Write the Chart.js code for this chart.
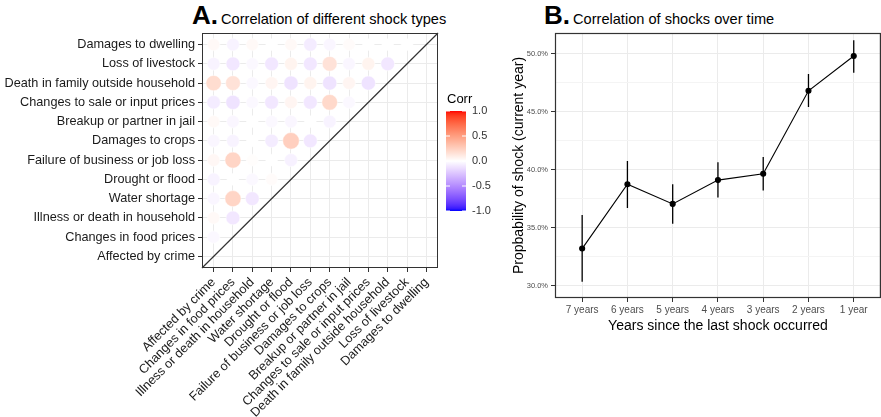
<!DOCTYPE html>
<html>
<head>
<meta charset="utf-8">
<script src="https://cdn.jsdelivr.net/npm/chart.js@4.4.0/dist/chart.umd.min.js"></script>
<style>
html, body { margin: 0; padding: 0; background: #fff; overflow: hidden; }
body { width: 881px; height: 417px; position: relative; font-family: "Liberation Sans", Arial, sans-serif; }
.title { position: absolute; top: 0; height: 30px; line-height: 30px; white-space: nowrap; color: #000; }
.title b { font-size: 26px; font-weight: bold; margin-right: 3px; }
.title span { font-size: 14.6px; }
#corrChart { position: absolute; left: 0; top: 0; }
#timeChart { position: absolute; left: 500px; top: 0; }
</style>
</head>
<body>
<div class="title" style="left:192px"><b>A.</b><span>Correlation of different shock types</span></div>
<div class="title" style="left:544px"><b>B.</b><span>Correlation of shocks over time</span></div>
<canvas id="corrChart" width="500" height="417"></canvas>
<canvas id="timeChart" width="386" height="417"></canvas>
<script>
var FONT = '"Liberation Sans", Arial, sans-serif';

// panel A: shock types, bottom-to-top on y, left-to-right on x
var shockTypes = ['Affected by crime', 'Changes in food prices', 'Illness or death in household',
  'Water shortage', 'Drought or flood', 'Failure of business or job loss', 'Damages to crops',
  'Breakup or partner in jail', 'Changes to sale or input prices',
  'Death in family outside household', 'Loss of livestock', 'Damages to dwelling'];

// corrRows[i][j] = correlation of shockTypes[i] with shockTypes[j], j < i
var corrRows = [
  [],
  [-0.03],
  [0.03, -0.10],
  [-0.04, 0.22, -0.10],
  [-0.05, 0.00, -0.03, 0.02],
  [0.04, 0.22, 0.01, 0.00, -0.06],
  [-0.04, -0.05, 0.00, -0.08, 0.25, -0.10],
  [0.03, -0.04, 0.00, -0.03, -0.04, 0.00, -0.05],
  [-0.08, -0.12, -0.03, -0.10, 0.05, -0.10, 0.20, -0.03],
  [0.18, 0.15, -0.03, 0.05, -0.12, 0.06, -0.12, 0.05, -0.12],
  [-0.05, -0.10, -0.03, -0.10, 0.06, -0.10, 0.15, -0.04, 0.06, -0.10],
  [0.03, -0.05, 0.03, 0.00, 0.03, -0.08, -0.04, 0.02, 0.00, 0.00, 0.00]
];
var corrTicks = [1.0, 0.5, 0.0, -0.5, -1.0];

// panel B
var yearLabels = ['7 years', '6 years', '5 years', '4 years', '3 years', '2 years', '1 year'];
var shockProb = [33.2, 38.75, 37.05, 39.1, 39.65, 46.8, 49.8];
var probLow = [30.35, 36.7, 35.35, 37.6, 38.2, 45.4, 48.35];
var probHigh = [36.1, 40.75, 38.75, 40.65, 41.1, 48.25, 51.15];
var probTicks = [30, 32.5, 35, 37.5, 40, 42.5, 45, 47.5, 50];

// gradient2 style colours (white mid), interpolated in Lab
function toLin(c) { c /= 255; return c <= 0.04045 ? c / 12.92 : Math.pow((c + 0.055) / 1.055, 2.4); }
function fromLin(c) {
  c = c <= 0.0031308 ? 12.92 * c : 1.055 * Math.pow(c, 1 / 2.4) - 0.055;
  return Math.round(Math.max(0, Math.min(1, c)) * 255);
}
function labF(t) { return t > 0.008856 ? Math.cbrt(t) : 7.787 * t + 16 / 116; }
function labFi(t) { return t > 0.206893 ? t * t * t : (t - 16 / 116) / 7.787; }
function rgbToLab(c) {
  var r = toLin(c[0]), g = toLin(c[1]), b = toLin(c[2]);
  var x = labF((r * 0.4124 + g * 0.3576 + b * 0.1805) / 0.95047);
  var y = labF(r * 0.2126 + g * 0.7152 + b * 0.0722);
  var z = labF((r * 0.0193 + g * 0.1192 + b * 0.9505) / 1.08883);
  return [116 * y - 16, 500 * (x - y), 200 * (y - z)];
}
function labToRgb(l) {
  var fy = (l[0] + 16) / 116, fx = fy + l[1] / 500, fz = fy - l[2] / 200;
  var x = labFi(fx) * 0.95047, y = labFi(fy), z = labFi(fz) * 1.08883;
  return [fromLin(x * 3.2406 - y * 1.5372 - z * 0.4986),
          fromLin(-x * 0.9689 + y * 1.8758 + z * 0.0415),
          fromLin(x * 0.0557 - y * 0.2040 + z * 1.0570)];
}
var labWhite = rgbToLab([255, 255, 255]), labRed = rgbToLab([255, 0, 0]), labBlue = rgbToLab([0, 0, 255]);
function corrColor(v) {
  var t = Math.min(1, Math.abs(v)), end = v > 0 ? labRed : labBlue;
  var c = labToRgb([0, 1, 2].map(function(k) { return labWhite[k] + t * (end[k] - labWhite[k]); }));
  return 'rgb(' + c.join(',') + ')';
}

var pointsA = [];
corrRows.forEach(function(row, i) {
  row.forEach(function(v, j) { pointsA.push({x: j + 1, y: i + 1, v: v}); });
});

var corrDecor = {
  id: 'corrDecor',
  afterDatasetsDraw: function(chart) {
    var a = chart.chartArea, ctx = chart.ctx;
    ctx.save();
    ctx.strokeStyle = '#333';
    ctx.lineWidth = 1.2;
    ctx.beginPath();
    ctx.moveTo(a.left, a.bottom);
    ctx.lineTo(a.right, a.top);
    ctx.stroke();
    ctx.lineWidth = 1;
    ctx.strokeRect(a.left + 0.5, a.top + 0.5, a.right - a.left - 1, a.bottom - a.top - 1);

    // colour bar legend
    var bx = a.right + 8, bw = 20, top = a.top + 78, bottom = a.top + 178;
    var grad = ctx.createLinearGradient(0, top, 0, bottom);
    for (var s = 0; s <= 40; s++) grad.addColorStop(s / 40, corrColor(1 - s / 20));
    ctx.fillStyle = grad;
    ctx.fillRect(bx, top, bw, bottom - top);
    ctx.fillStyle = '#000';
    ctx.font = '13px ' + FONT;
    ctx.textBaseline = 'middle';
    ctx.textAlign = 'left';
    ctx.fillText('Corr', bx + 1, top - 12);
    ctx.font = '11px ' + FONT;
    ctx.fillStyle = '#333';
    corrTicks.forEach(function(t) {
      var y = top + (1 - t) / 2 * (bottom - top);
      ctx.strokeStyle = '#fff';
      ctx.beginPath();
      ctx.moveTo(bx, y); ctx.lineTo(bx + 4, y);
      ctx.moveTo(bx + bw - 4, y); ctx.lineTo(bx + bw, y);
      ctx.stroke();
      ctx.fillText(t.toFixed(1), bx + bw + 6, y);
    });
    ctx.restore();
  }
};

function matrixAxis(isX) {
  return {
    type: 'linear',
    min: 0.4,
    max: 12.6,
    afterBuildTicks: function(s) { s.ticks = shockTypes.map(function(_, i) { return {value: i + 1}; }); },
    afterFit: function(s) { if (isX) s.height = 149; else s.width = 202; },
    ticks: {
      autoSkip: false,
      minRotation: isX ? 45 : 0,
      maxRotation: isX ? 45 : 0,
      padding: 3,
      color: '#1a1a1a',
      font: {family: FONT, size: 12.7},
      callback: function(v, i) { return shockTypes[i]; }
    },
    grid: {color: '#ebebeb', lineWidth: 1, tickColor: '#333', tickLength: 4},
    border: {display: false}
  };
}

new Chart(document.getElementById('corrChart'), {
  type: 'scatter',
  data: {
    datasets: [{
      data: pointsA,
      pointRadius: function(c) { return c.raw ? Math.sqrt(34 + 140 * Math.abs(c.raw.v)) : 0; },
      backgroundColor: function(c) { return c.raw ? corrColor(c.raw.v) : '#fff'; },
      borderColor: '#fff',
      borderWidth: 0.5
    }]
  },
  options: {
    responsive: false,
    animation: false,
    devicePixelRatio: 1,
    events: [],
    layout: {padding: {top: 33, right: 62, left: 0, bottom: 0}},
    plugins: {legend: {display: false}, tooltip: {enabled: false}},
    scales: {x: matrixAxis(true), y: matrixAxis(false)}
  },
  plugins: [corrDecor]
});

var errorBars = {
  id: 'errorBars',
  beforeDatasetsDraw: function(chart) {
    var xs = chart.scales.x, ys = chart.scales.y, ctx = chart.ctx;
    ctx.save();
    ctx.strokeStyle = '#000';
    ctx.lineWidth = 1.3;
    ctx.beginPath();
    yearLabels.forEach(function(_, i) {
      var x = xs.getPixelForValue(i + 1);
      ctx.moveTo(x, ys.getPixelForValue(probLow[i]));
      ctx.lineTo(x, ys.getPixelForValue(probHigh[i]));
    });
    ctx.stroke();
    ctx.restore();
  },
  afterDraw: function(chart) {
    var a = chart.chartArea, ctx = chart.ctx;
    ctx.save();
    ctx.strokeStyle = '#333';
    ctx.lineWidth = 1.2;
    ctx.strokeRect(a.left + 0.5, a.top + 0.5, a.right - a.left - 1, a.bottom - a.top - 1);
    ctx.restore();
  }
};

new Chart(document.getElementById('timeChart'), {
  type: 'line',
  data: {
    datasets: [{
      data: shockProb.map(function(p, i) { return {x: i + 1, y: p}; }),
      borderColor: '#000',
      borderWidth: 1.1,
      backgroundColor: '#000',
      pointRadius: 2.5,
      tension: 0
    }]
  },
  options: {
    responsive: false,
    animation: false,
    devicePixelRatio: 1,
    events: [],
    layout: {padding: {top: 33, right: 1, left: 0, bottom: 0}},
    plugins: {legend: {display: false}, tooltip: {enabled: false}},
    scales: {
      x: {
        type: 'linear',
        min: 0.4,
        max: 7.6,
        afterBuildTicks: function(s) { s.ticks = yearLabels.map(function(_, i) { return {value: i + 1}; }); },
        afterFit: function(s) { s.height = 119; },
        ticks: {
          autoSkip: false, maxRotation: 0, padding: 2,
          color: '#4d4d4d', font: {family: FONT, size: 10},
          callback: function(v, i) { return yearLabels[i]; }
        },
        grid: {color: '#ebebeb', tickColor: '#333', tickLength: 4},
        border: {display: false},
        title: {
          display: true, text: 'Years since the last shock occurred',
          color: '#000', font: {family: FONT, size: 14}, padding: {top: 0, bottom: 82}
        }
      },
      y: {
        type: 'linear',
        min: 28.94,
        max: 51.78,
        afterBuildTicks: function(s) { s.ticks = probTicks.map(function(v) { return {value: v}; }); },
        afterFit: function(s) { s.width = 55; },
        ticks: {
          padding: 3, color: '#4d4d4d', font: {family: FONT, size: 7.5},
          callback: function(v) { return v % 5 === 0 ? v.toFixed(1) + '%' : ''; }
        },
        grid: {
          color: function(c) { return c.tick && c.tick.value % 5 === 0 ? '#ebebeb' : '#f4f4f4'; },
          tickColor: function(c) { return c.tick && c.tick.value % 5 === 0 ? '#333' : 'rgba(0,0,0,0)'; },
          tickLength: 4
        },
        border: {display: false},
        title: {
          display: true, text: 'Propbability of shock (current year)',
          color: '#000', font: {family: FONT, size: 14}, padding: {top: 11, bottom: 0}
        }
      }
    }
  },
  plugins: [errorBars]
});
</script>
</body>
</html>
